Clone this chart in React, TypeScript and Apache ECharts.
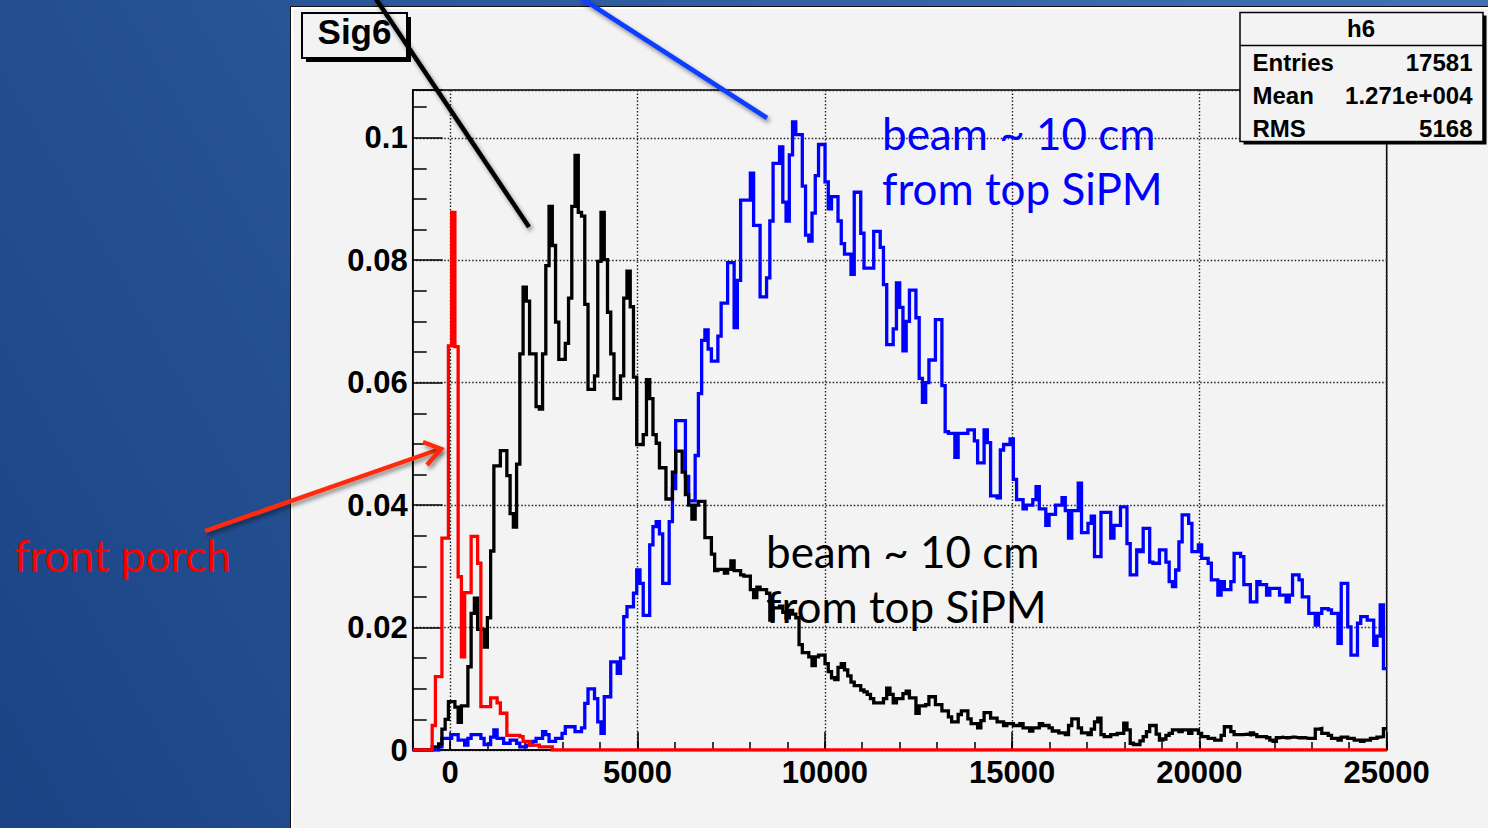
import React, { useEffect, useRef } from "react";
import * as echarts from "echarts";

// ---- axis definition (histogram binning) ----
const X_MIN = -1000;
const X_MAX = 25000;
const N_BINS = 300;
const Y_MAX = 0.1078;
const X_MAJOR = 5000;
const X_MINOR = 1000;
const Y_MAJOR = 0.02;

// ---- histogram contents, one value per bin ----
const frontPorch = [
  0, 0, 0, 0, 0, 0, 0.004, 0.012, 0.012, 0.0346,
  0.0346, 0.066, 0.0878, 0.0659, 0.0283, 0.0152, 0.0257, 0.0257, 0.0349, 0.0349,
  0.0305, 0.0071, 0.0071, 0.0071, 0.0085, 0.0085, 0.0077, 0.006, 0.006, 0.0024,
  0.0024, 0.0024, 0.0024, 0.0022, 0.0014, 0.0014, 0.0008, 0.0008, 0.0008, 0.0005,
  0.0005, 0.0005, 0.0005, 0, 0, 0, 0, 0, 0, 0,
  0, 0, 0, 0, 0, 0, 0, 0, 0, 0, 0, 0, 0, 0, 0, 0, 0, 0, 0, 0,
  0, 0, 0, 0, 0, 0, 0, 0, 0, 0, 0, 0, 0, 0, 0, 0, 0, 0, 0, 0,
  0, 0, 0, 0, 0, 0, 0, 0, 0, 0, 0, 0, 0, 0, 0, 0, 0, 0, 0, 0,
  0, 0, 0, 0, 0, 0, 0, 0, 0, 0, 0, 0, 0, 0, 0, 0, 0, 0, 0, 0,
  0, 0, 0, 0, 0, 0, 0, 0, 0, 0, 0, 0, 0, 0, 0, 0, 0, 0, 0, 0,
  0, 0, 0, 0, 0, 0, 0, 0, 0, 0, 0, 0, 0, 0, 0, 0, 0, 0, 0, 0,
  0, 0, 0, 0, 0, 0, 0, 0, 0, 0, 0, 0, 0, 0, 0, 0, 0, 0, 0, 0,
  0, 0, 0, 0, 0, 0, 0, 0, 0, 0, 0, 0, 0, 0, 0, 0, 0, 0, 0, 0,
  0, 0, 0, 0, 0, 0, 0, 0, 0, 0, 0, 0, 0, 0, 0, 0, 0, 0, 0, 0,
  0, 0, 0, 0, 0, 0, 0, 0, 0, 0, 0, 0, 0, 0, 0, 0, 0, 0, 0, 0,
  0, 0, 0, 0, 0, 0, 0, 0, 0, 0, 0, 0, 0, 0, 0, 0, 0, 0, 0, 0,
  0, 0, 0, 0, 0, 0, 0, 0, 0, 0, 0, 0, 0, 0, 0, 0, 0, 0, 0, 0,
];

const beamBlack = [
  0, 0, 0, 0, 0, 0, 0.0005, 0.0005, 0.001, 0.0034,
  0.005, 0.0079, 0.0079, 0.007, 0.0045, 0.0072, 0.0072, 0.0136, 0.0223, 0.0248,
  0.0197, 0.0197, 0.0168, 0.0216, 0.0325, 0.0464, 0.0464, 0.0489, 0.0489, 0.0448,
  0.0386, 0.0364, 0.0467, 0.0647, 0.0756, 0.0733, 0.0647, 0.0647, 0.0561, 0.0557,
  0.0647, 0.0791, 0.0888, 0.0824, 0.0699, 0.0638, 0.0638, 0.0664, 0.0738, 0.0888,
  0.0971, 0.0878, 0.0872, 0.0728, 0.0589, 0.0589, 0.0611, 0.0798, 0.0878, 0.0801,
  0.0715, 0.0647, 0.0574, 0.0574, 0.0611, 0.0738, 0.0782, 0.0724, 0.0609, 0.0499,
  0.0499, 0.0515, 0.0605, 0.0574, 0.0515, 0.0501, 0.0461, 0.0461, 0.041, 0.041,
  0.0454, 0.0488, 0.0488, 0.0454, 0.0417, 0.04, 0.0377, 0.04, 0.0406, 0.0406,
  0.0347, 0.0347, 0.032, 0.0293, 0.0295, 0.0295, 0.0289, 0.0295, 0.0309, 0.0293,
  0.0293, 0.0286, 0.0284, 0.0284, 0.0262, 0.0249, 0.0266, 0.0262, 0.0262, 0.0256,
  0.0212, 0.0232, 0.0232, 0.0235, 0.0225, 0.0216, 0.0228, 0.0222, 0.0216, 0.0172,
  0.0159, 0.0159, 0.0152, 0.0138, 0.0152, 0.0155, 0.0155, 0.0141, 0.0128, 0.0118,
  0.0115, 0.0135, 0.0141, 0.0131, 0.0121, 0.0111, 0.0105, 0.0105, 0.0098, 0.0095,
  0.0091, 0.0084, 0.0077, 0.0077, 0.0077, 0.0084, 0.0101, 0.0091, 0.0077, 0.0084,
  0.0084, 0.0092, 0.0096, 0.0085, 0.0085, 0.006, 0.0072, 0.0072, 0.0074, 0.0087,
  0.0087, 0.0074, 0.0074, 0.0064, 0.0064, 0.0054, 0.0046, 0.0046, 0.0058, 0.0064,
  0.0064, 0.0051, 0.0043, 0.0043, 0.0036, 0.0048, 0.0061, 0.0061, 0.0052, 0.0052,
  0.0046, 0.0046, 0.004, 0.0043, 0.0043, 0.004, 0.004, 0.0043, 0.0036, 0.0036,
  0.0031, 0.0036, 0.0036, 0.0043, 0.004, 0.004, 0.0036, 0.0031, 0.0031, 0.0028,
  0.0028, 0.0025, 0.004, 0.0051, 0.0051, 0.0036, 0.0028, 0.0028, 0.0025, 0.0034,
  0.0046, 0.0052, 0.0025, 0.0022, 0.0022, 0.0025, 0.0025, 0.0027, 0.0027, 0.0044,
  0.0033, 0.0011, 0.0009, 0.0009, 0.0015, 0.0022, 0.003, 0.004, 0.004, 0.0026,
  0.0016, 0.0018, 0.0024, 0.0027, 0.0033, 0.0033, 0.003, 0.0033, 0.0033, 0.0027,
  0.0033, 0.0033, 0.0027, 0.0022, 0.0022, 0.0019, 0.0019, 0.0016, 0.0016, 0.0024,
  0.0038, 0.0038, 0.003, 0.0025, 0.0025, 0.0025, 0.0026, 0.0025, 0.0028, 0.0025,
  0.0022, 0.0022, 0.0022, 0.002, 0.0016, 0.0014, 0.002, 0.0021, 0.002, 0.002,
  0.0021, 0.0021, 0.002, 0.002, 0.002, 0.0019, 0.0019, 0.0019, 0.0034, 0.0035,
  0.0027, 0.0027, 0.0024, 0.0019, 0.0019, 0.0016, 0.0021, 0.0021, 0.0019, 0.0019,
  0.0016, 0.0016, 0.0014, 0.0016, 0.0016, 0.0019, 0.0019, 0.0021, 0.0022, 0.0035,
];

const beamBlue = [
  0, 0, 0, 0, 0, 0, 0, 0, 0.0005, 0.0019,
  0.0019, 0.0019, 0.0025, 0.0025, 0.0016, 0.0016, 0.0008, 0.0019, 0.0025, 0.0025,
  0.0025, 0.0019, 0.0009, 0.0009, 0.0021, 0.0033, 0.0019, 0.0019, 0.0011, 0.0011,
  0.0016, 0.0016, 0.0011, 0.0005, 0.0005, 0.0008, 0.0008, 0.0014, 0.0019, 0.0019,
  0.003, 0.0025, 0.0014, 0.0014, 0.0019, 0.0019, 0.0027, 0.0038, 0.0038, 0.0038,
  0.003, 0.003, 0.0036, 0.0076, 0.01, 0.01, 0.0084, 0.0046, 0.0027, 0.0087,
  0.0087, 0.0144, 0.0144, 0.0125, 0.015, 0.0218, 0.0234, 0.0234, 0.0256, 0.0294,
  0.0272, 0.022, 0.022, 0.0335, 0.0365, 0.0373, 0.0353, 0.0272, 0.0272, 0.0373,
  0.0427, 0.0538, 0.0538, 0.0538, 0.0447, 0.0407, 0.0407, 0.0481, 0.0582, 0.0669,
  0.0686, 0.0655, 0.0635, 0.0635, 0.0676, 0.073, 0.073, 0.0796, 0.0796, 0.069,
  0.0767, 0.0898, 0.0898, 0.0898, 0.0942, 0.0857, 0.0857, 0.074, 0.074, 0.0771,
  0.0864, 0.0958, 0.0958, 0.0985, 0.0895, 0.0864, 0.0972, 0.1026, 0.1005, 0.1005,
  0.0921, 0.0841, 0.0831, 0.0877, 0.0938, 0.0989, 0.0989, 0.0928, 0.0884, 0.0904,
  0.0904, 0.0864, 0.0827, 0.081, 0.081, 0.0777, 0.0911, 0.0911, 0.0844, 0.0787,
  0.0787, 0.0787, 0.0847, 0.0847, 0.0821, 0.076, 0.0662, 0.0662, 0.0688, 0.0763,
  0.0723, 0.0652, 0.07, 0.0751, 0.0751, 0.0706, 0.0607, 0.0568, 0.06, 0.0637,
  0.0637, 0.0703, 0.0703, 0.0595, 0.052, 0.0517, 0.0517, 0.0478, 0.0517, 0.0517,
  0.0517, 0.0523, 0.0523, 0.0505, 0.0469, 0.0469, 0.0523, 0.0502, 0.0415, 0.0415,
  0.0412, 0.049, 0.0499, 0.0499, 0.0508, 0.0442, 0.0409, 0.0409, 0.0394, 0.04,
  0.04, 0.0409, 0.043, 0.0394, 0.0394, 0.0367, 0.0385, 0.0385, 0.04, 0.04,
  0.0412, 0.0391, 0.0346, 0.0391, 0.0391, 0.0436, 0.0355, 0.0355, 0.037, 0.0382,
  0.0316, 0.0316, 0.0388, 0.0388, 0.0388, 0.0346, 0.0367, 0.0367, 0.0397, 0.0397,
  0.0337, 0.0286, 0.0286, 0.0327, 0.0324, 0.0362, 0.0362, 0.0307, 0.0305, 0.0305,
  0.0327, 0.0327, 0.0307, 0.0275, 0.0267, 0.0294, 0.034, 0.0384, 0.0384, 0.037,
  0.0324, 0.0324, 0.0335, 0.0313, 0.0313, 0.0305, 0.0278, 0.0278, 0.0253, 0.0275,
  0.0262, 0.0262, 0.0275, 0.0321, 0.0321, 0.0316, 0.027, 0.027, 0.0242, 0.0242,
  0.0275, 0.027, 0.027, 0.0253, 0.0264, 0.0264, 0.0264, 0.0253, 0.0253, 0.0242,
  0.0253, 0.0286, 0.0286, 0.0278, 0.025, 0.025, 0.0223, 0.0223, 0.0204, 0.0223,
  0.0231, 0.0231, 0.0229, 0.0223, 0.0223, 0.0174, 0.0272, 0.0272, 0.0201, 0.0155,
  0.0155, 0.0207, 0.0218, 0.0218, 0.0212, 0.0212, 0.0171, 0.0186, 0.0237, 0.0133,
];

// ---- texts ----
const padTitle = "Sig6";
const statsTitle = "h6";
const statsNames = ["Entries", "Mean", "RMS"];
const statsValues = ["17581", "1.271e+004", "5168"];
const blueNote = ["beam ~ 10 cm", "from top SiPM"];
const blackNote = ["beam ~ 10 cm", "from top SiPM"];
const redNote = "front porch";

// ---- layout ----
const W = 1488;
const H = 828;
const GRID = { left: 412.7, top: 90, width: 974, height: 660 };
const BIN_W = (X_MAX - X_MIN) / N_BINS;

function histPoints(counts: number[]) {
  const pts = counts.map((v, k) => [X_MIN + k * BIN_W, v]);
  pts.push([X_MAX, counts[counts.length - 1]]);
  return pts;
}

const AXIS_FONT = {
  fontFamily: "Liberation Sans",
  fontWeight: "bold" as const,
  fontSize: 31,
  color: "#000",
};
const DOTTED = { type: [1.5, 2] as number[], color: "#222", width: 1.4 };

function buildOption() {
  const zeroPx = GRID.left + (GRID.width * (0 - X_MIN)) / (X_MAX - X_MIN);
  const majorGrid = {
    left: zeroPx,
    top: GRID.top,
    width: GRID.left + GRID.width - zeroPx,
    height: GRID.height,
    show: false,
  };
  const statFont = 'bold 24px "Liberation Sans"';
  const noteFont = '44px Lato';
  const graphic: any[] = [
    // pad title box
    { type: "rect", z: 100, shape: { x: 306, y: 17, width: 105, height: 45 }, style: { fill: "#000" } },
    { type: "rect", z: 101, shape: { x: 302, y: 13, width: 105, height: 45 }, style: { fill: "#f3f3f3", stroke: "#000", lineWidth: 2 } },
    { type: "text", z: 102, style: { text: padTitle, x: 354.5, y: 31, font: 'bold 35px "Liberation Sans"', fill: "#000", textAlign: "center", textVerticalAlign: "middle" } },
    // stats box
    { type: "rect", z: 100, shape: { x: 1243.5, y: 15.5, width: 243, height: 129 }, style: { fill: "#000" } },
    { type: "rect", z: 101, shape: { x: 1240, y: 12.5, width: 243, height: 129 }, style: { fill: "#f3f3f3", stroke: "#000", lineWidth: 1.5 } },
    { type: "line", z: 102, shape: { x1: 1240, y1: 45.5, x2: 1483, y2: 45.5 }, style: { stroke: "#000", lineWidth: 1.5 } },
    { type: "text", z: 102, style: { text: statsTitle, x: 1361, y: 28.5, font: statFont, fill: "#000", textAlign: "center", textVerticalAlign: "middle" } },
  ];
  statsNames.forEach((name, i) => {
    const y = 62.5 + i * 33.2;
    graphic.push({ type: "text", z: 102, style: { text: name, x: 1252.5, y, font: statFont, fill: "#000", textAlign: "left", textVerticalAlign: "middle" } });
    graphic.push({ type: "text", z: 102, style: { text: statsValues[i], x: 1472.5, y, font: statFont, fill: "#000", textAlign: "right", textVerticalAlign: "middle" } });
  });
  const shadow = { shadowBlur: 4, shadowColor: "rgba(0,0,0,0.45)", shadowOffsetX: 2, shadowOffsetY: 3 };
  graphic.push(
    { type: "line", z: 110, shape: { x1: 374, y1: -4, x2: 529, y2: 227 }, style: { stroke: "#000", lineWidth: 4.5, ...shadow } },
    { type: "line", z: 110, shape: { x1: 581, y1: -2, x2: 767, y2: 118 }, style: { stroke: "#0b3cff", lineWidth: 4.5, ...shadow } },
    { type: "line", z: 110, shape: { x1: 205, y1: 531, x2: 440, y2: 449 }, style: { stroke: "#ff2b0c", lineWidth: 4.5, ...shadow } },
    { type: "polyline", z: 110, shape: { points: [[423, 442], [441, 449], [427, 465]] }, style: { stroke: "#ff2b0c", fill: null, lineWidth: 4.5, lineJoin: "miter", ...shadow } },
    { type: "text", z: 112, style: { text: blueNote[0], x: 882, y: 133, font: noteFont, fill: "#0000ff", textAlign: "left", textVerticalAlign: "middle" } },
    { type: "text", z: 112, style: { text: blueNote[1], x: 882, y: 188, font: noteFont, fill: "#0000ff", textAlign: "left", textVerticalAlign: "middle" } },
    { type: "text", z: 112, style: { text: blackNote[0], x: 766, y: 551, font: noteFont, fill: "#000", textAlign: "left", textVerticalAlign: "middle" } },
    { type: "text", z: 112, style: { text: blackNote[1], x: 766, y: 606, font: noteFont, fill: "#000", textAlign: "left", textVerticalAlign: "middle" } },
    { type: "text", z: 112, style: { text: redNote, x: 14, y: 555, font: noteFont, fill: "#ff0000", textAlign: "left", textVerticalAlign: "middle" } }
  );

  const line = (color: string, counts: number[], z: number) => ({
    type: "line",
    xAxisIndex: 0,
    yAxisIndex: 0,
    step: "end",
    symbol: "none",
    silent: true,
    z,
    data: histPoints(counts),
    lineStyle: { color, width: 3.3, join: "miter", cap: "butt" },
  });

  return {
    animation: false,
    backgroundColor: "transparent",
    grid: [
      { left: GRID.left, top: GRID.top, width: GRID.width, height: GRID.height, show: true, borderColor: "#000", borderWidth: 1.5, backgroundColor: "transparent" },
      majorGrid,
    ],
    xAxis: [
      {
        type: "value", gridIndex: 0, min: X_MIN, max: X_MAX, interval: X_MINOR,
        axisLine: { show: true, onZero: false, lineStyle: { color: "#000", width: 1.5 } },
        axisTick: { show: true, inside: true, length: 8, lineStyle: { color: "#000", width: 1.5 } },
        axisLabel: { show: false },
        splitLine: { show: false },
      },
      {
        type: "value", gridIndex: 1, min: 0, max: X_MAX, interval: X_MAJOR,
        axisLine: { show: false, onZero: false },
        axisTick: { show: true, inside: true, length: 18, lineStyle: { color: "#000", width: 1.5 } },
        axisLabel: { show: true, margin: 7, formatter: (v: number) => String(v), ...AXIS_FONT },
        splitLine: { show: true, lineStyle: DOTTED },
      },
    ],
    yAxis: [
      {
        type: "value", gridIndex: 0, min: 0, max: Y_MAX, interval: Y_MAJOR,
        axisLine: { show: true, onZero: false, lineStyle: { color: "#000", width: 1.5 } },
        axisTick: { show: true, inside: true, length: 30, lineStyle: { color: "#000", width: 1.5 } },
        minorTick: { show: true, splitNumber: 4, length: 14, lineStyle: { color: "#000", width: 1.5 } },
        axisLabel: { show: true, margin: 5, showMaxLabel: false, formatter: (v: number) => String(Number(v.toFixed(4))), ...AXIS_FONT },
        splitLine: { show: true, lineStyle: DOTTED },
      },
      { type: "value", gridIndex: 1, min: 0, max: 1, show: false, axisLine: { onZero: false } },
    ],
    series: [line("#0000ff", beamBlue, 3), line("#000000", beamBlack, 4), line("#ff0000", frontPorch, 5)],
    graphic,
  };
}

export default function App() {
  const ref = useRef<HTMLDivElement>(null);
  useEffect(() => {
    const chart = echarts.init(ref.current as HTMLDivElement, null, { renderer: "svg", width: W, height: H });
    chart.setOption(buildOption() as any);
    return () => chart.dispose();
  }, []);
  return (
    <div
      style={{
        position: "fixed", left: 0, top: 0, width: W, height: H, overflow: "hidden",
        background: "linear-gradient(60deg, #1a4384 0%, #2a589a 45%, #4173b3 100%)",
      }}
    >
      <div
        style={{
          position: "absolute", left: 290, top: 6, width: W - 290, height: H - 6,
          background: "#f3f3f3", borderLeft: "1.5px solid #111", borderTop: "1.5px solid #111",
          boxShadow: "inset 2px 2px 0 #ffffff", boxSizing: "border-box",
        }}
      />
      <div ref={ref} style={{ position: "absolute", left: 0, top: 0, width: W, height: H }} />
    </div>
  );
}
